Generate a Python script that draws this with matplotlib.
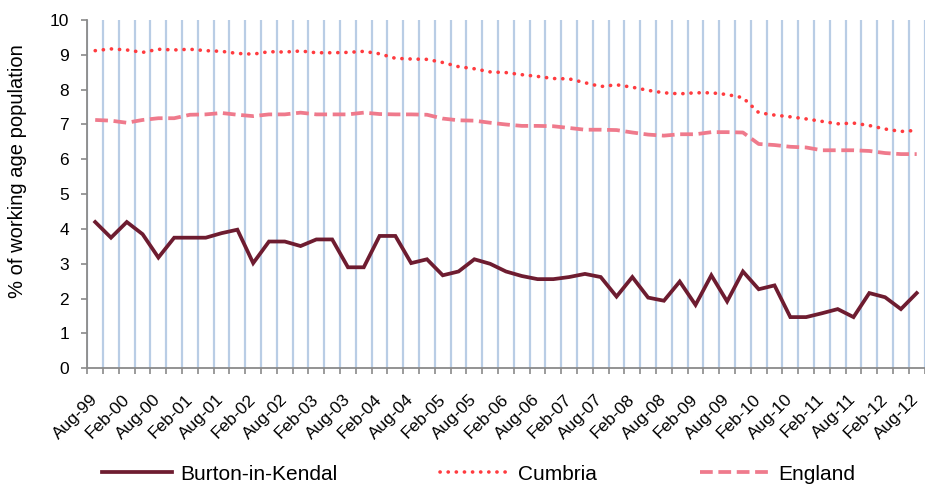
import matplotlib
matplotlib.use("Agg")
import matplotlib.pyplot as plt
import numpy as np

plt.rcParams['font.family'] = ['Liberation Sans', 'DejaVu Sans']

quarters = ["Aug-99", "Nov-99", "Feb-00", "May-00", "Aug-00", "Nov-00", "Feb-01", "May-01",
            "Aug-01", "Nov-01", "Feb-02", "May-02", "Aug-02", "Nov-02", "Feb-03", "May-03",
            "Aug-03", "Nov-03", "Feb-04", "May-04", "Aug-04", "Nov-04", "Feb-05", "May-05",
            "Aug-05", "Nov-05", "Feb-06", "May-06", "Aug-06", "Nov-06", "Feb-07", "May-07",
            "Aug-07", "Nov-07", "Feb-08", "May-08", "Aug-08", "Nov-08", "Feb-09", "May-09",
            "Aug-09", "Nov-09", "Feb-10", "May-10", "Aug-10", "Nov-10", "Feb-11", "May-11",
            "Aug-11", "Nov-11", "Feb-12", "May-12", "Aug-12"]

burton = [4.20, 3.75, 4.20, 3.85, 3.18, 3.75, 3.75, 3.75, 3.88, 3.98,
          3.02, 3.64, 3.64, 3.51, 3.70, 3.70, 2.90, 2.90, 3.80, 3.80,
          3.02, 3.13, 2.67, 2.78, 3.13, 3.00, 2.78, 2.65, 2.56, 2.56,
          2.62, 2.71, 2.62, 2.06, 2.62, 2.03, 1.94, 2.49, 1.82, 2.67,
          1.92, 2.78, 2.27, 2.38, 1.47, 1.47, 1.58, 1.70, 1.47, 2.16,
          2.04, 1.70, 2.16]

cumbria = [9.12, 9.17, 9.14, 9.07, 9.16, 9.14, 9.16, 9.12, 9.10, 9.04,
           9.02, 9.09, 9.08, 9.11, 9.06, 9.06, 9.07, 9.10, 9.03, 8.90,
           8.88, 8.87, 8.78, 8.66, 8.60, 8.51, 8.49, 8.43, 8.38, 8.32,
           8.31, 8.20, 8.09, 8.14, 8.07, 7.98, 7.91, 7.88, 7.91, 7.91,
           7.86, 7.77, 7.34, 7.27, 7.22, 7.16, 7.09, 7.02, 7.04, 6.97,
           6.87, 6.80, 6.83]

england = [7.13, 7.11, 7.05, 7.13, 7.18, 7.18, 7.28, 7.29, 7.33, 7.28,
           7.24, 7.29, 7.29, 7.34, 7.29, 7.29, 7.29, 7.34, 7.30, 7.29,
           7.29, 7.28, 7.17, 7.12, 7.11, 7.05, 7.00, 6.96, 6.96, 6.95,
           6.90, 6.85, 6.85, 6.84, 6.77, 6.71, 6.68, 6.72, 6.72, 6.78,
           6.78, 6.77, 6.44, 6.41, 6.36, 6.34, 6.26, 6.26, 6.26, 6.24,
           6.18, 6.15, 6.15]

series_names = ["Burton-in-Kendal", "Cumbria", "England"]

W, H = 925, 487
fig = plt.figure(figsize=(W / 100, H / 100), dpi=100)
left, right = 87.3 / W, 924.6 / W
bottom, top = (H - 368.3) / H, (H - 20.0) / H
ax = fig.add_axes([left, bottom, right - left, top - bottom])

x = np.arange(len(quarters))
ax.plot(x, burton, color="#6E1C30", lw=2.7, solid_joinstyle="miter", label=series_names[0], zorder=5)
ax.plot(x, cumbria, color="#FF3B3F", lw=2.6, linestyle=(0, (0.05, 2.2)), dash_capstyle="round",
        label=series_names[1], zorder=4)
ax.plot(x, england, color="#EF7A8C", lw=2.7, linestyle=(0, (3.4, 1.5)), dash_capstyle="butt",
        label=series_names[2], zorder=4)

ax.set_xlim(-0.5, len(quarters) - 0.5)
ax.set_ylim(0, 10)
ax.set_yticks(np.arange(0, 11, 1))

# category boundaries: ticks and vertical gridlines
ax.set_xticks(np.arange(-0.5, len(quarters), 1), minor=True)
ax.set_xticks(x[::2])
ax.set_xticklabels(quarters[::2], rotation=45, ha="right", va="center", rotation_mode="anchor")
ax.tick_params(axis="x", which="major", length=0, pad=20.5, labelsize=12.5)
ax.tick_params(axis="x", which="minor", length=4.5, width=1.2, color="#8A8A8A", direction="out")
ax.tick_params(axis="y", which="major", length=4.5, width=1.2, color="#8A8A8A", pad=8.5, labelsize=12.5)
ax.grid(True, axis="x", which="minor", color="#B9CDE5", lw=1.6, zorder=0)
ax.set_axisbelow(True)

for s in ["top", "right"]:
    ax.spines[s].set_visible(False)
for s in ["left", "bottom"]:
    ax.spines[s].set_color("#8A8A8A")
    ax.spines[s].set_linewidth(1.3)

fig.text(18 / W, 1 - 171 / H, "% of working age population", rotation=90,
         ha="center", va="center", fontsize=14.5)

fs = 15
fpx = fs * 100 / 72
leg = fig.legend(loc="center left", bbox_to_anchor=(102 / W, 13 / H), ncol=3, frameon=False,
                 fontsize=fs, handlelength=70 / fpx, handletextpad=8 / fpx,
                 columnspacing=103 / fpx, borderpad=0, borderaxespad=0)

fig.savefig("out.png", dpi=100)
